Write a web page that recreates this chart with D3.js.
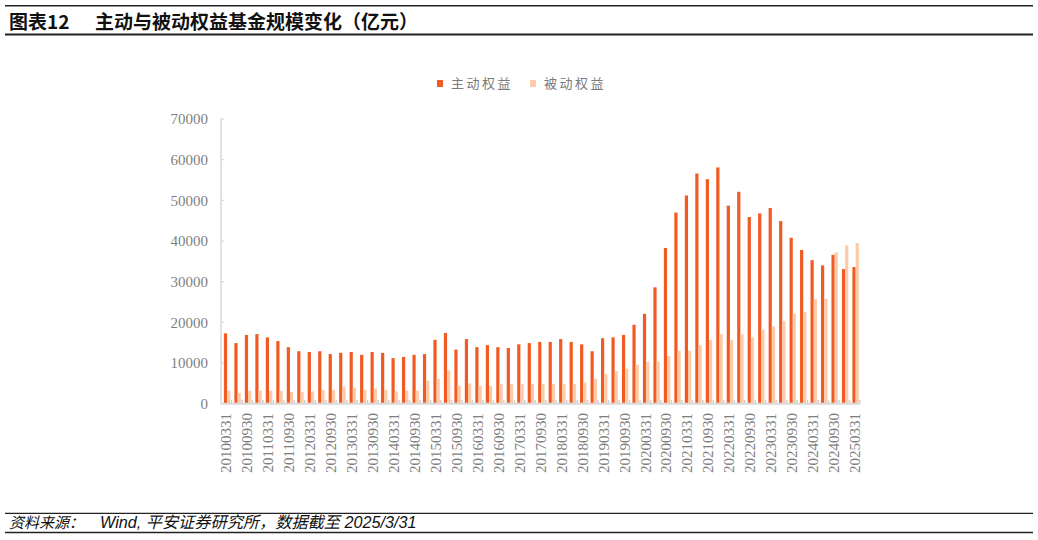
<!DOCTYPE html>
<html>
<head>
<meta charset="utf-8">
<script src="https://cdn.jsdelivr.net/npm/d3@7"></script>
<style>
  html, body { margin: 0; padding: 0; background: #fff; }
  svg { display: block; }
</style>
</head>
<body>
<script>
const categories = [
  "20100331","20100630","20100930","20101231",
  "20110331","20110630","20110930","20111231",
  "20120331","20120630","20120930","20121231",
  "20130331","20130630","20130930","20131231",
  "20140331","20140630","20140930","20141231",
  "20150331","20150630","20150930","20151231",
  "20160331","20160630","20160930","20161231",
  "20170331","20170630","20170930","20171231",
  "20180331","20180630","20180930","20181231",
  "20190331","20190630","20190930","20191231",
  "20200331","20200630","20200930","20201231",
  "20210331","20210630","20210930","20211231",
  "20220331","20220630","20220930","20221231",
  "20230331","20230630","20230930","20231231",
  "20240331","20240630","20240930","20241231",
  "20250331"
];
const activeEquity = [
  17300,14900,16900,17100,16300,15400,13900,12900,12700,12900,
  12200,12500,12700,12000,12700,12500,11200,11500,12000,12200,
  15700,17400,13300,15900,13900,14400,13900,13700,14600,14900,
  15200,15200,15900,15200,14600,12900,16100,16300,16900,19400,
  22100,28600,38300,47000,51200,56600,55200,58100,48700,52100,
  45900,46800,48100,44900,40800,37800,35300,34000,36600,33100,
  33600
];
const passiveEquity = [
  3200,2600,3200,3200,3200,3200,2900,2900,3000,3400,
  3400,4200,3900,3400,3700,3400,3000,3200,3200,5700,
  6100,8200,4400,5000,4400,4400,4800,4800,4800,4800,
  4800,4800,4800,4800,5200,6100,7300,8000,8600,9600,
  10300,10300,11700,13000,13000,14400,15700,17100,15700,17100,
  16300,18200,19000,20300,22100,22500,25700,25800,37200,38900,
  39500
];
const seriesNames = ["主动权益", "被动权益"];
const seriesColors = ["#F15A22", "#FDCBA8"];
const yTicks = [0,10000,20000,30000,40000,50000,60000,70000];
const tickLabels = categories.filter((d, i) => i % 2 === 0);

const W = 1038, H = 540;
const svg = d3.select("body").append("svg").attr("width", W).attr("height", H);

// Header & footer rules
svg.append("line").attr("x1", 5).attr("x2", 1033).attr("y1", 5.8).attr("y2", 5.8)
  .attr("stroke", "#222").attr("stroke-width", 1.5);
svg.append("line").attr("x1", 5).attr("x2", 1033).attr("y1", 34.5).attr("y2", 34.5)
  .attr("stroke", "#222").attr("stroke-width", 2);
svg.append("text").attr("x", 9).attr("y", 28.5)
  .attr("font-family", "'Noto Sans CJK SC', sans-serif").attr("font-weight", "bold")
  .attr("font-size", 19).attr("fill", "#111")
  .text("图表12");
svg.append("text").attr("x", 95).attr("y", 28.5)
  .attr("font-family", "'Noto Sans CJK SC', sans-serif").attr("font-weight", "bold")
  .attr("font-size", 19).attr("fill", "#111")
  .text("主动与被动权益基金规模变化（亿元）");

svg.append("line").attr("x1", 5).attr("x2", 1033).attr("y1", 513.3).attr("y2", 513.3)
  .attr("stroke", "#222").attr("stroke-width", 1.3);
svg.append("line").attr("x1", 5).attr("x2", 1033).attr("y1", 532.5).attr("y2", 532.5)
  .attr("stroke", "#222").attr("stroke-width", 1.5);
const foot = svg.append("text").attr("y", 527.5)
  .attr("font-family", "'Liberation Sans', 'Noto Sans CJK SC', sans-serif")
  .attr("font-style", "italic").attr("fill", "#111");
foot.append("tspan").attr("x", 9).attr("font-size", 15).text("资料来源：");
foot.append("tspan").attr("x", 100).attr("font-size", 16.2).text("Wind, 平安证券研究所，数据截至 2025/3/31");

// Scales
const x0 = d3.scaleBand().domain(categories).range([221, 860]).paddingInner(0).paddingOuter(0);
const x1 = d3.scaleBand().domain(seriesNames).range([2.9, 9.3]).padding(0);
const y = d3.scaleLinear().domain([0, 70000]).range([403.7, 119]);

// Bars
const groups = svg.append("g").selectAll("g").data(categories).join("g")
  .attr("transform", d => `translate(${x0(d)},0)`);
groups.selectAll("rect")
  .data((d, i) => [
    { s: seriesNames[0], v: activeEquity[i], c: seriesColors[0] },
    { s: seriesNames[1], v: passiveEquity[i], c: seriesColors[1] }
  ])
  .join("rect")
  .attr("x", d => x1(d.s))
  .attr("width", x1.bandwidth())
  .attr("y", d => y(d.v))
  .attr("height", d => y(0) - y(d.v))
  .attr("fill", d => d.c);

// Y axis
const yAxis = svg.append("g");
yAxis.append("line").attr("x1", 221).attr("x2", 221).attr("y1", y(70000)).attr("y2", y(0))
  .attr("stroke", "#d9d9d9").attr("stroke-width", 1.5);
yAxis.selectAll("line.t").data(yTicks).join("line").attr("class", "t")
  .attr("x1", 221).attr("x2", 224).attr("y1", d => y(d)).attr("y2", d => y(d))
  .attr("stroke", "#d9d9d9").attr("stroke-width", 1.2);
yAxis.selectAll("text").data(yTicks).join("text")
  .attr("x", 208).attr("y", d => y(d)).attr("dy", "0.35em")
  .attr("text-anchor", "end")
  .attr("font-family", "'Liberation Serif', 'DejaVu Serif', serif")
  .attr("font-size", 15).attr("fill", "#7f7f7f")
  .text(d => d);

// X axis
const xAxis = svg.append("g");
const bounds = categories.map(d => x0(d) + x0.bandwidth());
xAxis.selectAll("line.t").data(bounds).join("line").attr("class", "t")
  .attr("x1", d => d).attr("x2", d => d).attr("y1", y(0) - 4).attr("y2", y(0))
  .attr("stroke", "#d0d0d0").attr("stroke-width", 1.5);
xAxis.append("line").attr("x1", 221).attr("x2", 860).attr("y1", y(0)).attr("y2", y(0))
  .attr("stroke", "#d9d9d9").attr("stroke-width", 2);
xAxis.selectAll("text").data(tickLabels).join("text")
  .attr("transform", d => `translate(${x0(d) + x0.bandwidth() / 2},413) rotate(-90)`)
  .attr("dy", "0.35em")
  .attr("text-anchor", "end")
  .attr("font-family", "'Liberation Serif', 'DejaVu Serif', serif")
  .attr("font-size", 15).attr("fill", "#7f7f7f")
  .text(d => d);

// Legend
const legendX = [437, 530];
const legend = svg.append("g");
seriesNames.forEach((name, i) => {
  legend.append("rect").attr("x", legendX[i]).attr("y", 80).attr("width", 6).attr("height", 7)
    .attr("fill", seriesColors[i]);
  legend.append("text").attr("x", legendX[i] + 14).attr("y", 83.5).attr("dy", "0.35em")
    .attr("font-family", "'Noto Sans CJK SC', sans-serif")
    .attr("font-size", 13).attr("letter-spacing", 2.5).attr("fill", "#7a7a7a")
    .text(name);
});
</script>
</body>
</html>
